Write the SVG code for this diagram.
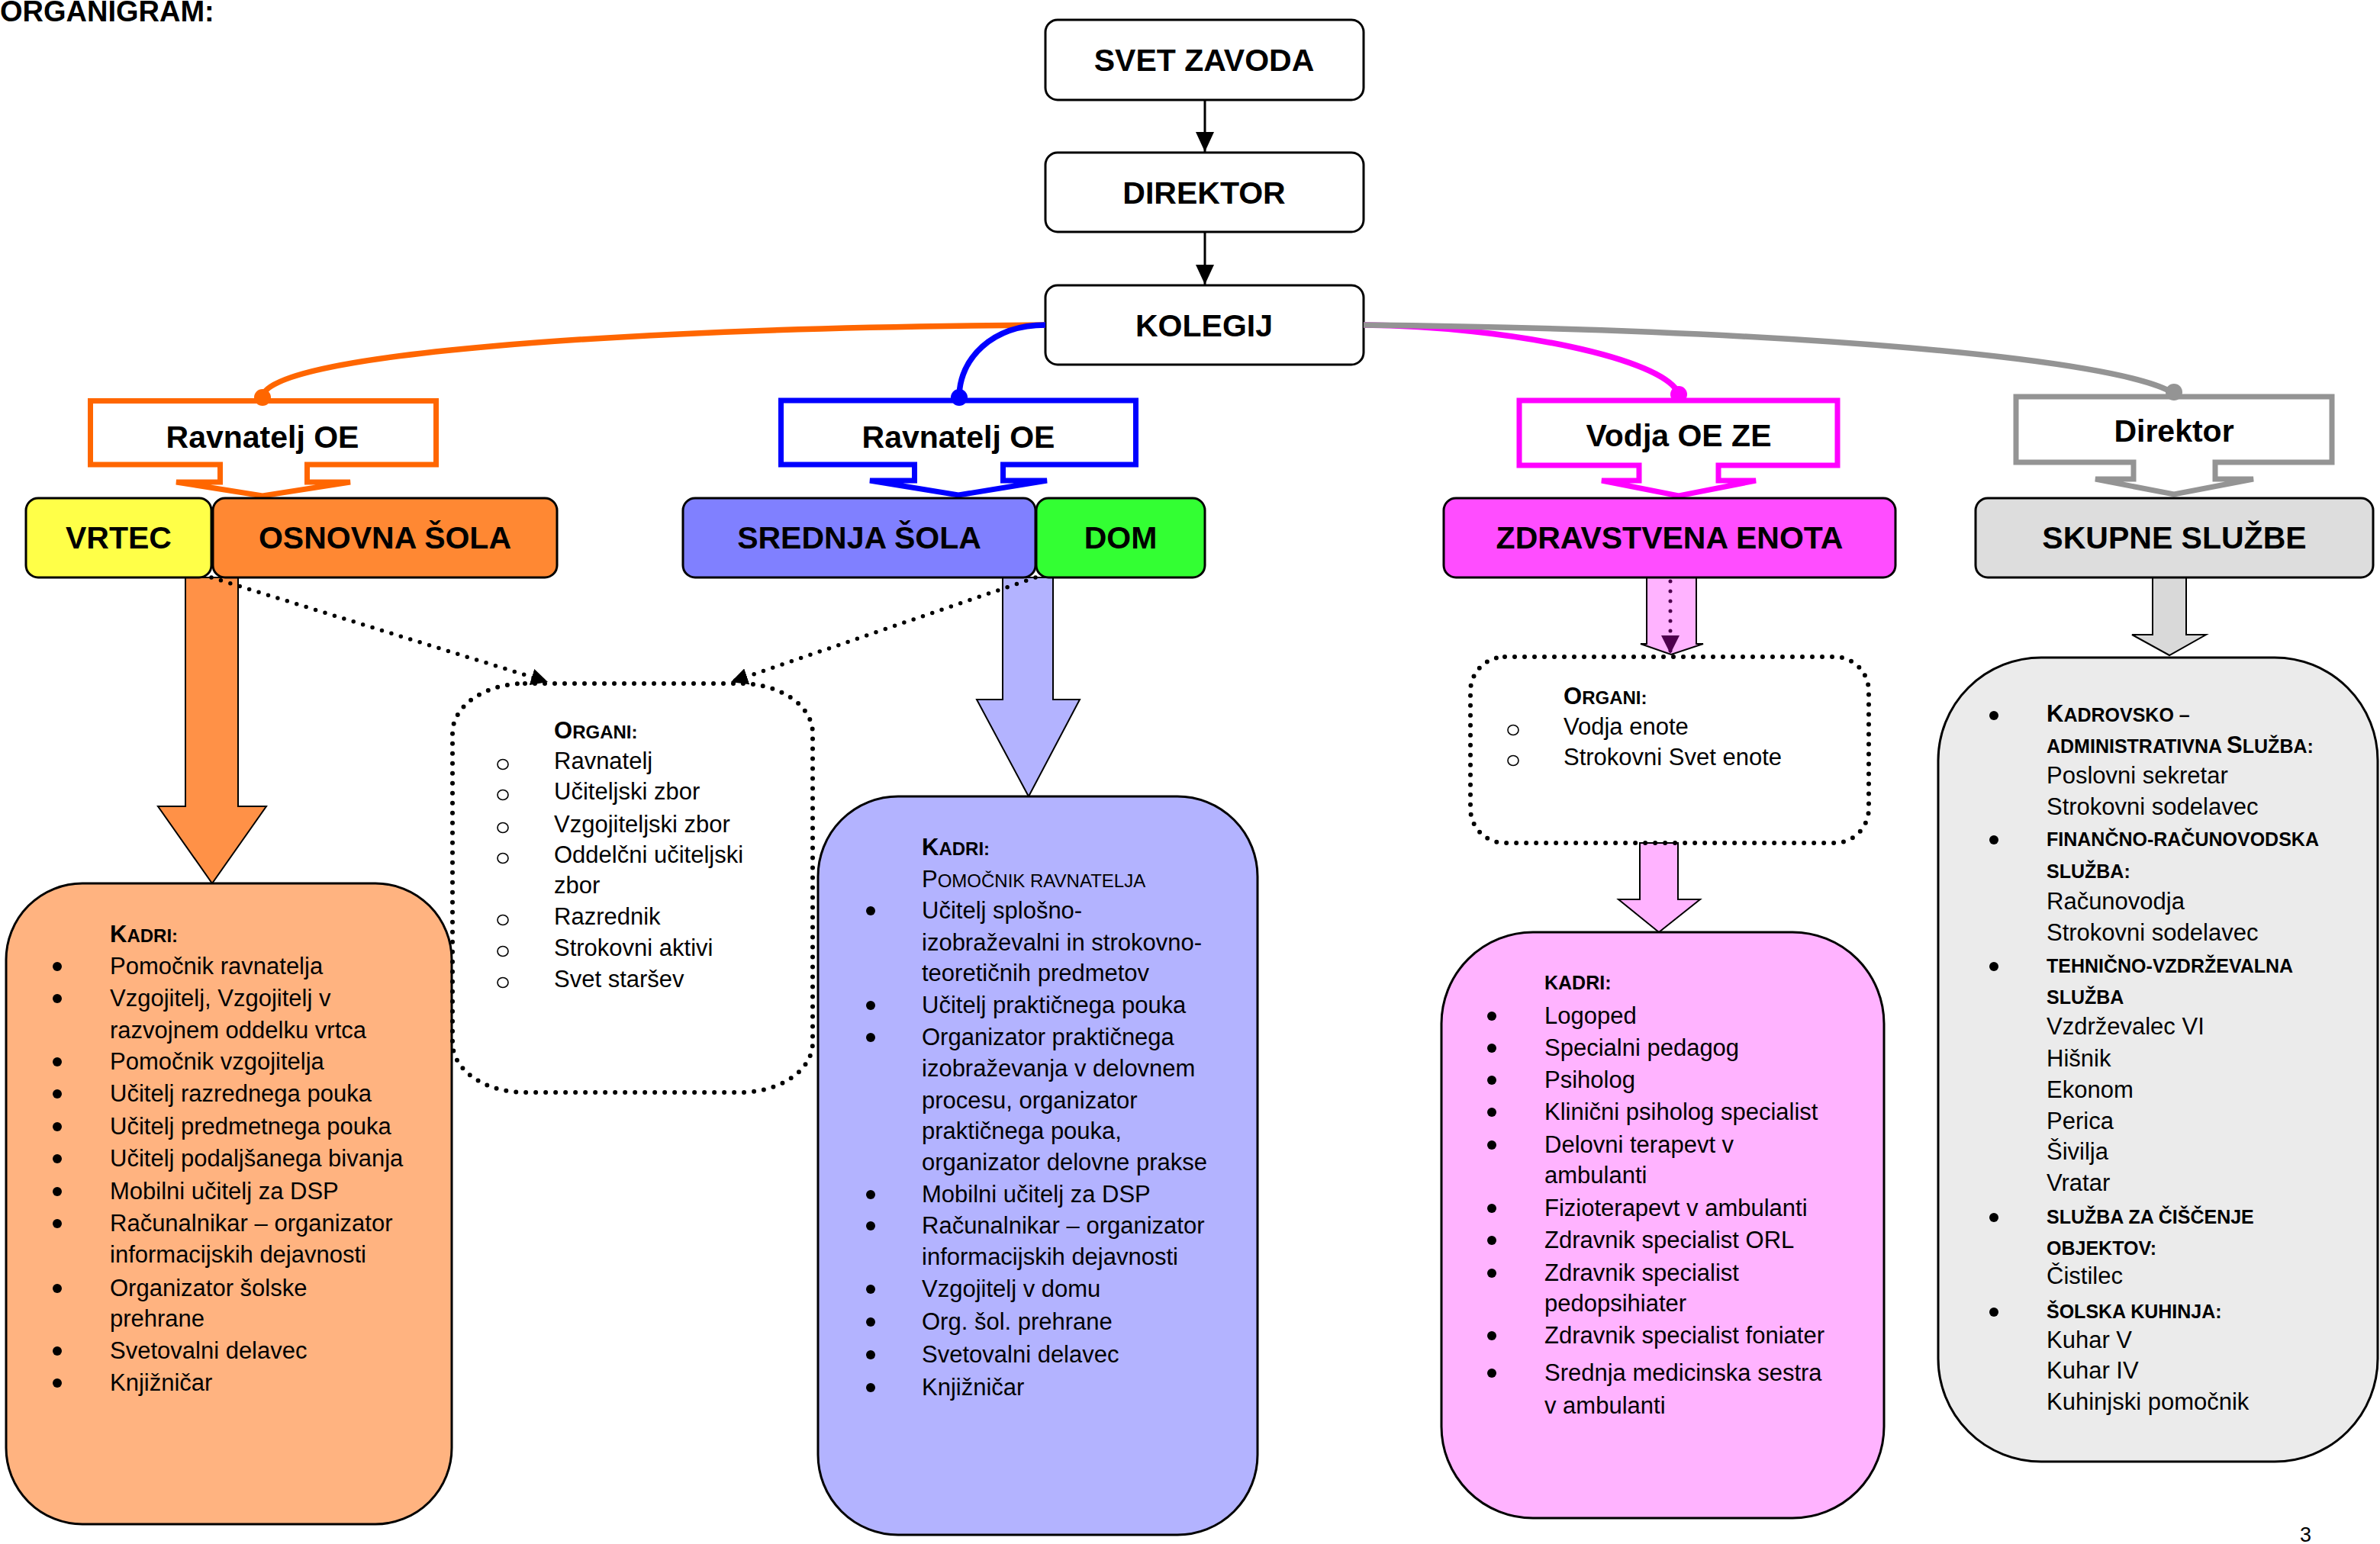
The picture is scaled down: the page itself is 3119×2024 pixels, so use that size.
<svg xmlns="http://www.w3.org/2000/svg" width="3119" height="2024" viewBox="0 0 3119 2024">
<defs>
<style>
text{font-family:"Liberation Sans",Arial,sans-serif;fill:#000}
.lbl{font-weight:bold;font-size:41px;text-anchor:middle}
.t{font-size:31px}
.b{font-weight:bold}
.sc{font-size:24px}
.sc2{font-size:25px}
.box{stroke:#000;stroke-width:3}
.call{fill:#fff;stroke-width:7;stroke-linejoin:miter}
.big{stroke:#000;stroke-width:3}
.fat{stroke:#000;stroke-width:2}
.dotbox{fill:none;stroke:#000;stroke-width:6;stroke-dasharray:0 13;stroke-linecap:round}
.dotline{fill:none;stroke:#000;stroke-width:5.5;stroke-dasharray:0 13;stroke-linecap:round}
.curve{fill:none;stroke-width:7.5}
.bul{fill:#000}
.cir{fill:none;stroke:#000;stroke-width:1.6}
</style>
<marker id="ah" viewBox="0 0 26 24" refX="26" refY="12" markerWidth="26" markerHeight="24" markerUnits="userSpaceOnUse" orient="auto"><path d="M0,0 L26,12 L0,24 Z" fill="#000"/></marker>
<marker id="ahd" viewBox="0 0 22 22" refX="22" refY="11" markerWidth="22" markerHeight="22" markerUnits="userSpaceOnUse" orient="auto"><path d="M0,0 L22,11 L0,22 Z" fill="#000"/></marker>
<marker id="ahp" viewBox="0 0 24 24" refX="24" refY="12" markerWidth="24" markerHeight="24" markerUnits="userSpaceOnUse" orient="auto"><path d="M0,0 L24,12 L0,24 Z" fill="#4D004D"/></marker>
</defs>
<rect width="3119" height="2024" fill="#fff"/>
<text x="0" y="28" class="b" font-size="38">ORGANIGRAM:</text>

<g id="block-arrows">
<polygon class="fat" fill="#FF9147" points="243,757 312,757 312,1057 349,1057 278,1158 207,1057 243,1057"/>
<polygon class="fat" fill="#B3B3FF" points="1314,757 1380,757 1380,917 1415,917 1348,1044 1280,917 1314,917"/>
<polygon class="fat" fill="#FFB3FF" points="2158,757 2223,757 2223,844 2232,844 2190,858 2150,844 2158,844"/>
<polygon class="fat" fill="#FFB3FF" points="2149,1105 2199,1105 2199,1179 2228,1179 2174,1222 2121,1179 2149,1179"/>
<polygon class="fat" fill="#D9D9D9" points="2821,757 2865,757 2865,832 2891,832 2843,859 2794,832 2821,832"/>
</g>

<g id="svet-zavoda"><rect class="box" x="1370" y="26" width="417" height="105" rx="16" fill="#fff"/><text class="lbl" x="1578" y="93">SVET ZAVODA</text></g>
<g id="direktor"><rect class="box" x="1370" y="200" width="417" height="104" rx="16" fill="#fff"/><text class="lbl" x="1578" y="267">DIREKTOR</text></g>
<g id="kolegij"><rect class="box" x="1370" y="374" width="417" height="104" rx="16" fill="#fff"/><text class="lbl" x="1578" y="441">KOLEGIJ</text></g>

<g id="ravnatelj-oe-1"><path class="call" stroke="#FF6600" d="M118.5,525.5 H571.5 V609 H402.5 V632 H459 L344,650 L231,632 H288.5 V609 H118.5 Z"/><text class="lbl" x="344" y="587">Ravnatelj OE</text></g>
<g id="ravnatelj-oe-2"><path class="call" stroke="#0000FF" d="M1023.5,525 H1488.5 V609 H1314.5 V630 H1372 L1256,649 L1140,630 H1198.5 V609 H1023.5 Z"/><text class="lbl" x="1256" y="587">Ravnatelj OE</text></g>
<g id="vodja-oe-ze"><path class="call" stroke="#FF00FF" d="M1991,525 H2408 V610 H2252 V630 H2301 L2200,650 L2099,630 H2148 V610 H1991 Z"/><text class="lbl" x="2200" y="585">Vodja OE ZE</text></g>
<g id="direktor-sk"><path class="call" stroke="#949494" d="M2642,520 H3056 V606 H2903 V628 H2953 L2849,648 L2746,628 H2796 V606 H2642 Z"/><text class="lbl" x="2849" y="579">Direktor</text></g>

<g id="vrtec"><rect class="box" x="34" y="653" width="243" height="104" rx="16" fill="#FFFF48"/><text class="lbl" x="155.5" y="719">VRTEC</text></g>
<g id="osnovna-sola"><rect class="box" x="279" y="653" width="451" height="104" rx="16" fill="#FF8833"/><text class="lbl" x="504.5" y="719">OSNOVNA ŠOLA</text></g>
<g id="srednja-sola"><rect class="box" x="895" y="653" width="462" height="104" rx="16" fill="#8080FF"/><text class="lbl" x="1126" y="719">SREDNJA ŠOLA</text></g>
<g id="dom"><rect class="box" x="1358" y="653" width="221" height="104" rx="16" fill="#33FF33"/><text class="lbl" x="1468.5" y="719">DOM</text></g>
<g id="zdravstvena-enota"><rect class="box" x="1892" y="653" width="592" height="104" rx="16" fill="#FF4DFF"/><text class="lbl" x="2188" y="719">ZDRAVSTVENA ENOTA</text></g>
<g id="skupne-sluzbe"><rect class="box" x="2589" y="653" width="521" height="104" rx="16" fill="#DDDDDD"/><text class="lbl" x="2849.5" y="719">SKUPNE SLUŽBE</text></g>

<g id="kadri-os">
<rect class="big" x="8" y="1158" width="584" height="840" rx="100" fill="#FFB380"/>
<text class="t b" x="144" y="1235">K<tspan class="sc">ADRI:</tspan></text>
<g class="bul"><circle cx="75" cy="1267" r="6"/><circle cx="75" cy="1309" r="6"/><circle cx="75" cy="1392" r="6"/><circle cx="75" cy="1434" r="6"/><circle cx="75" cy="1477" r="6"/><circle cx="75" cy="1519" r="6"/><circle cx="75" cy="1562" r="6"/><circle cx="75" cy="1604" r="6"/><circle cx="75" cy="1689" r="6"/><circle cx="75" cy="1771" r="6"/><circle cx="75" cy="1813" r="6"/></g>
<text class="t" x="144" y="1277">Pomočnik ravnatelja</text>
<text class="t" x="144" y="1319">Vzgojitelj, Vzgojitelj v</text>
<text class="t" x="144" y="1361">razvojnem oddelku vrtca</text>
<text class="t" x="144" y="1402">Pomočnik vzgojitelja</text>
<text class="t" x="144" y="1444">Učitelj razrednega pouka</text>
<text class="t" x="144" y="1487">Učitelj predmetnega pouka</text>
<text class="t" x="144" y="1529">Učitelj podaljšanega bivanja</text>
<text class="t" x="144" y="1572">Mobilni učitelj za DSP</text>
<text class="t" x="144" y="1614">Računalnikar – organizator</text>
<text class="t" x="144" y="1655">informacijskih dejavnosti</text>
<text class="t" x="144" y="1699">Organizator šolske</text>
<text class="t" x="144" y="1739">prehrane</text>
<text class="t" x="144" y="1781">Svetovalni delavec</text>
<text class="t" x="144" y="1823">Knjižničar</text>
</g>

<g id="organi-sola">
<rect class="dotbox" x="593" y="896" width="472" height="536" rx="95" ry="65"/>
<text class="t b" x="726" y="968">O<tspan class="sc">RGANI:</tspan></text>
<g><ellipse class="cir" cx="659" cy="1002" rx="7" ry="6.5"/><ellipse class="cir" cx="659" cy="1042" rx="7" ry="6.5"/><ellipse class="cir" cx="659" cy="1085" rx="7" ry="6.5"/><ellipse class="cir" cx="659" cy="1125" rx="7" ry="6.5"/><ellipse class="cir" cx="659" cy="1206" rx="7" ry="6.5"/><ellipse class="cir" cx="659" cy="1247" rx="7" ry="6.5"/><ellipse class="cir" cx="659" cy="1288" rx="7" ry="6.5"/></g>
<text class="t" x="726" y="1008">Ravnatelj</text>
<text class="t" x="726" y="1048">Učiteljski zbor</text>
<text class="t" x="726" y="1091">Vzgojiteljski zbor</text>
<text class="t" x="726" y="1131">Oddelčni učiteljski</text>
<text class="t" x="726" y="1171">zbor</text>
<text class="t" x="726" y="1212">Razrednik</text>
<text class="t" x="726" y="1253">Strokovni aktivi</text>
<text class="t" x="726" y="1294">Svet staršev</text>
</g>

<g id="kadri-ss">
<rect class="big" x="1072" y="1044" width="576" height="968" rx="105" fill="#B3B3FF"/>
<text class="t b" x="1208" y="1121">K<tspan class="sc">ADRI:</tspan></text>
<text class="t" x="1208" y="1163">P<tspan class="sc">OMOČNIK RAVNATELJA</tspan></text>
<g class="bul"><circle cx="1141" cy="1194" r="6"/><circle cx="1141" cy="1318" r="6"/><circle cx="1141" cy="1360" r="6"/><circle cx="1141" cy="1566" r="6"/><circle cx="1141" cy="1607" r="6"/><circle cx="1141" cy="1690" r="6"/><circle cx="1141" cy="1733" r="6"/><circle cx="1141" cy="1776" r="6"/><circle cx="1141" cy="1819" r="6"/></g>
<text class="t" x="1208" y="1204">Učitelj splošno-</text>
<text class="t" x="1208" y="1246">izobraževalni in strokovno-</text>
<text class="t" x="1208" y="1286">teoretičnih predmetov</text>
<text class="t" x="1208" y="1328">Učitelj praktičnega pouka</text>
<text class="t" x="1208" y="1370">Organizator praktičnega</text>
<text class="t" x="1208" y="1411">izobraževanja v delovnem</text>
<text class="t" x="1208" y="1453">procesu, organizator</text>
<text class="t" x="1208" y="1493">praktičnega pouka,</text>
<text class="t" x="1208" y="1534">organizator delovne prakse</text>
<text class="t" x="1208" y="1576">Mobilni učitelj za DSP</text>
<text class="t" x="1208" y="1617">Računalnikar – organizator</text>
<text class="t" x="1208" y="1658">informacijskih dejavnosti</text>
<text class="t" x="1208" y="1700">Vzgojitelj v domu</text>
<text class="t" x="1208" y="1743">Org. šol. prehrane</text>
<text class="t" x="1208" y="1786">Svetovalni delavec</text>
<text class="t" x="1208" y="1829">Knjižničar</text>
</g>

<g id="organi-ze">
<rect class="dotbox" x="1927" y="861" width="522" height="244" rx="45"/>
<text class="t b" x="2049" y="923">O<tspan class="sc">RGANI:</tspan></text>
<ellipse class="cir" cx="1983" cy="957" rx="7" ry="6.5"/><ellipse class="cir" cx="1983" cy="997" rx="7" ry="6.5"/>
<text class="t" x="2049" y="963">Vodja enote</text>
<text class="t" x="2049" y="1003">Strokovni Svet enote</text>
</g>

<g id="kadri-ze">
<rect class="big" x="1889" y="1222" width="580" height="768" rx="120" fill="#FFB3FF"/>
<text class="b sc2" x="2024" y="1297">KADRI:</text>
<g class="bul"><circle cx="1955" cy="1332" r="6"/><circle cx="1955" cy="1374" r="6"/><circle cx="1955" cy="1416" r="6"/><circle cx="1955" cy="1458" r="6"/><circle cx="1955" cy="1501" r="6"/><circle cx="1955" cy="1584" r="6"/><circle cx="1955" cy="1626" r="6"/><circle cx="1955" cy="1669" r="6"/><circle cx="1955" cy="1751" r="6"/><circle cx="1955" cy="1800" r="6"/></g>
<text class="t" x="2024" y="1342">Logoped</text>
<text class="t" x="2024" y="1384">Specialni pedagog</text>
<text class="t" x="2024" y="1426">Psiholog</text>
<text class="t" x="2024" y="1468">Klinični psiholog specialist</text>
<text class="t" x="2024" y="1511">Delovni terapevt v</text>
<text class="t" x="2024" y="1551">ambulanti</text>
<text class="t" x="2024" y="1594">Fizioterapevt v ambulanti</text>
<text class="t" x="2024" y="1636">Zdravnik specialist ORL</text>
<text class="t" x="2024" y="1679">Zdravnik specialist</text>
<text class="t" x="2024" y="1719">pedopsihiater</text>
<text class="t" x="2024" y="1761">Zdravnik specialist foniater</text>
<text class="t" x="2024" y="1810">Srednja medicinska sestra</text>
<text class="t" x="2024" y="1853">v ambulanti</text>
</g>

<g id="kadri-sk">
<rect class="big" x="2540" y="862" width="576" height="1054" rx="135" fill="#EBEBEB"/>
<g class="bul"><circle cx="2613" cy="938" r="6"/><circle cx="2613" cy="1101" r="6"/><circle cx="2613" cy="1267" r="6"/><circle cx="2613" cy="1596" r="6"/><circle cx="2613" cy="1720" r="6"/></g>
<text class="t b" x="2682" y="946">K<tspan class="sc2">ADROVSKO –</tspan></text>
<text class="t b" x="2682" y="987"><tspan class="sc2">ADMINISTRATIVNA </tspan>S<tspan class="sc2">LUŽBA:</tspan></text>
<text class="t" x="2682" y="1027">Poslovni sekretar</text>
<text class="t" x="2682" y="1068">Strokovni sodelavec</text>
<text class="b sc2" x="2682" y="1109">FINANČNO-RAČUNOVODSKA</text>
<text class="b sc2" x="2682" y="1151">SLUŽBA:</text>
<text class="t" x="2682" y="1192">Računovodja</text>
<text class="t" x="2682" y="1233">Strokovni sodelavec</text>
<text class="b sc2" x="2682" y="1275">TEHNIČNO-VZDRŽEVALNA</text>
<text class="b sc2" x="2682" y="1316">SLUŽBA</text>
<text class="t" x="2682" y="1356">Vzdrževalec VI</text>
<text class="t" x="2682" y="1398">Hišnik</text>
<text class="t" x="2682" y="1439">Ekonom</text>
<text class="t" x="2682" y="1480">Perica</text>
<text class="t" x="2682" y="1520">Šivilja</text>
<text class="t" x="2682" y="1561">Vratar</text>
<text class="b sc2" x="2682" y="1604">SLUŽBA ZA ČIŠČENJE</text>
<text class="b sc2" x="2682" y="1645">OBJEKTOV:</text>
<text class="t" x="2682" y="1683">Čistilec</text>
<text class="b sc2" x="2682" y="1728">ŠOLSKA KUHINJA:</text>
<text class="t" x="2682" y="1767">Kuhar V</text>
<text class="t" x="2682" y="1807">Kuhar IV</text>
<text class="t" x="2682" y="1848">Kuhinjski pomočnik</text>
</g>

<g id="connectors">
<line x1="1579" y1="131" x2="1579" y2="199" stroke="#000" stroke-width="3" marker-end="url(#ah)"/>
<line x1="1579" y1="304" x2="1579" y2="373" stroke="#000" stroke-width="3" marker-end="url(#ah)"/>
<path class="curve" stroke="#FF6600" d="M1370,426 C800,430 344,465 344,521"/>
<path class="curve" stroke="#0000FF" d="M1370,426 C1300,426 1257,470 1257,521"/>
<path class="curve" stroke="#FF00FF" d="M1787,426 C1980,428 2180,470 2200,516"/>
<path class="curve" stroke="#949494" d="M1787,426 C2350,432 2780,470 2849,516"/>
<circle cx="344" cy="521" r="11" fill="#FF6600"/>
<circle cx="1257" cy="521" r="11" fill="#0000FF"/>
<circle cx="2200" cy="517" r="11" fill="#FF00FF"/>
<circle cx="2849" cy="514" r="11" fill="#949494"/>
<path class="dotline" d="M277,757 L718,894" marker-end="url(#ahd)"/>
<path class="dotline" d="M1357,757 L958,894" marker-end="url(#ahd)"/>
<path d="M2189,762 L2189,857" fill="none" stroke="#4D004D" stroke-width="5" stroke-dasharray="0 13" stroke-linecap="round" marker-end="url(#ahp)"/>
</g>

<text x="3014" y="2021" font-size="27">3</text>
</svg>
